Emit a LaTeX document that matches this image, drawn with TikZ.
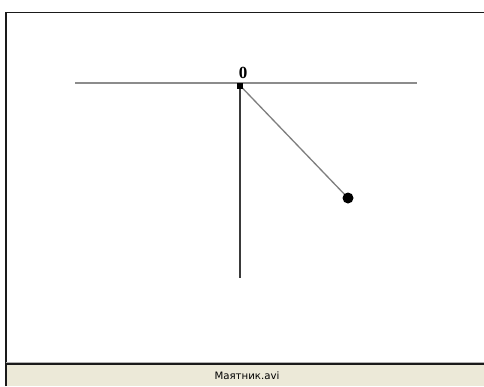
\documentclass[tikz,border=0pt]{standalone}
\usepackage{fontspec}
\setmainfont{Liberation Serif}
\newfontfamily\barfont{DejaVu Sans}
\usepackage{tikz}
\usetikzlibrary{positioning,backgrounds}
\definecolor{pendink}{HTML}{1A1A1A}
\definecolor{pendgray}{HTML}{8C8C8C}
\definecolor{pendrod}{HTML}{3A3A3A}
\definecolor{barbeige}{HTML}{ECE9D8}

\begin{document}
\begin{tikzpicture}[
  x=1pt,y=-1pt,
  axis/.style={draw=pendgray,line width=1.6pt},
  rod/.style={draw=pendgray!90!black,line width=1.3pt},
  post/.style={draw=pendrod,line width=2pt},
  pivot/.style={fill=black,inner sep=0pt,minimum size=6pt},
  bob/.style={circle,fill=black,inner sep=0pt,minimum size=11pt},
  label/.style={font=\fontsize{17}{17}\selectfont\bfseries}
]
\useasboundingbox (0,0) rectangle (484,386);
% pendulum
\coordinate (left) at (75,83);
\coordinate (right) at (417,83);
\coordinate (foot) at (240,278);
\node[pivot] (top) at (240,85.5) {};
\node[bob] (ball) at (348,198) {};
\node[label,above=0pt of top,xshift=3pt] (zero) {0};
\begin{scope}[on background layer]
% window frame and caption bar
\fill[white] (0,0) rectangle (484,362);
\fill[barbeige] (6,364) rectangle (484,386);
\draw[pendink,line width=1.2pt] (6,386) -- (6,12.5) -- (484,12.5);
\draw[pendink,line width=1.2pt] (6,364) -- (484,364);
\draw[gray!60,line width=0.6pt] (6,362.6) -- (484,362.6);
% lines under the pivot
\draw[axis] (left) -- (right);
\draw[post] (top.center) -- (foot);
\draw[rod] (top.center) -- (ball.center);
\end{scope}
\node[font=\barfont\fontsize{10.2}{10}\selectfont] (caption) at (247,376) {Маятник.avi};
\end{tikzpicture}
\end{document}
